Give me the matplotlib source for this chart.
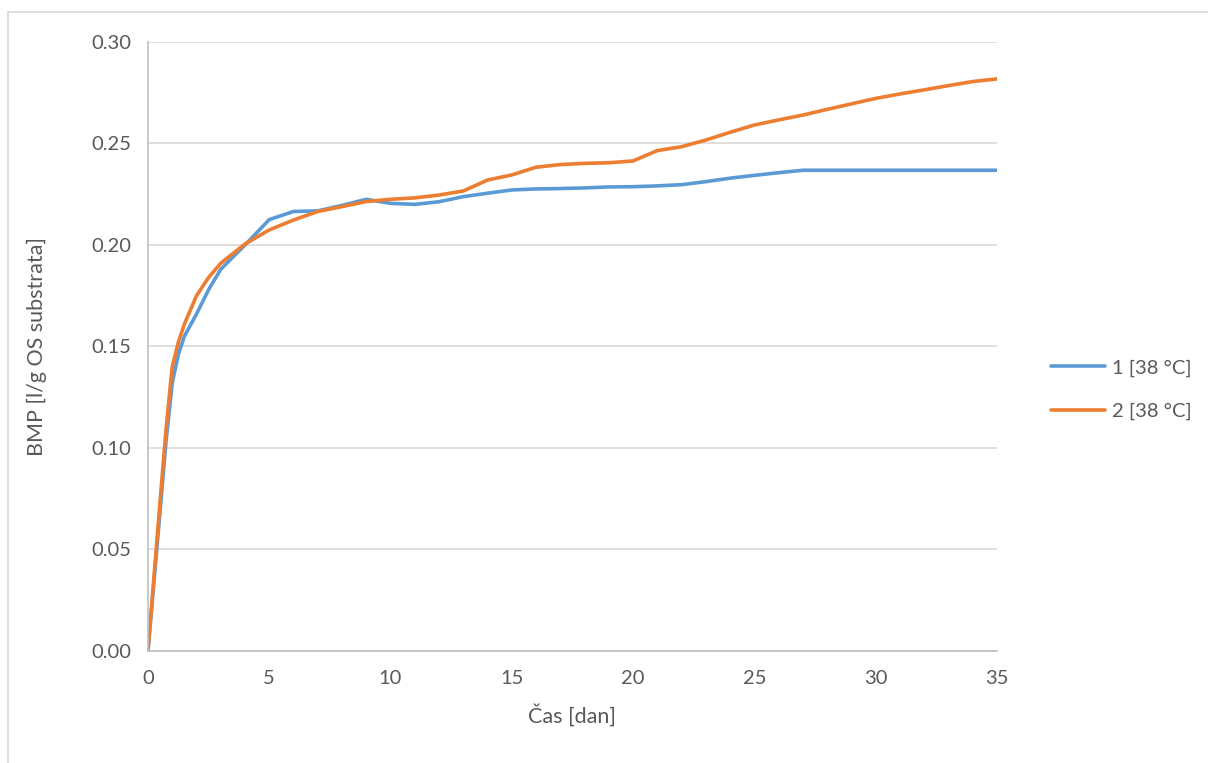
import matplotlib.pyplot as plt
from matplotlib.patches import Rectangle

# --- Data ---
days = [0, 0.5, 0.75, 1, 1.25, 1.5, 2, 2.5, 3, 4, 5, 6, 7, 8, 9, 10, 11, 12, 13, 14,
        15, 16, 17, 18, 19, 20, 21, 22, 23, 24, 25, 26, 27, 28, 29, 30, 31, 32, 33, 34, 35]
bmp_1 = [0, 0.069, 0.104, 0.132, 0.146, 0.155, 0.166, 0.178, 0.188, 0.200, 0.2125,
         0.2165, 0.2168, 0.2195, 0.2225, 0.2205, 0.2200, 0.2213, 0.2238, 0.2255, 0.2271,
         0.2276, 0.2278, 0.2281, 0.2286, 0.2287, 0.2291, 0.2297, 0.2312, 0.2329, 0.2343,
         0.2356, 0.2368, 0.2368, 0.2368, 0.2368, 0.2368, 0.2368, 0.2368, 0.2368, 0.2368]
bmp_2 = [0, 0.074, 0.110, 0.140, 0.152, 0.161, 0.175, 0.184, 0.191, 0.2005, 0.2074,
         0.2123, 0.2165, 0.2189, 0.2214, 0.2225, 0.2232, 0.2246, 0.2266, 0.2320, 0.2345,
         0.2383, 0.2396, 0.2402, 0.2405, 0.2414, 0.2465, 0.2484, 0.2517, 0.2555, 0.2591,
         0.2616, 0.2640, 0.2668, 0.2695, 0.2722, 0.2744, 0.2764, 0.2785, 0.2805, 0.2818]
series_names = ['1 [38 °C]', '2 [38 °C]']
x_ticks = [0, 5, 10, 15, 20, 25, 30, 35]
y_ticks = [0.00, 0.05, 0.10, 0.15, 0.20, 0.25, 0.30]

plt.rcParams['font.family'] = ['Lato', 'DejaVu Sans']
text_color = '#595959'

fig = plt.figure(figsize=(12.08, 7.63), dpi=100)
ax = fig.add_axes([0.1225, 0.1468, 0.7028, 0.7982])

# chart border (Excel style)
fig.patches.append(Rectangle((8 / 1208, -0.05), 1.2, 1 - 12 / 763 + 0.05,
                             transform=fig.transFigure, fill=False,
                             edgecolor='#d9d9d9', linewidth=1.2))

ax.plot(days, bmp_1, color='#5B9BD5', linewidth=2.6, label=series_names[0],
        solid_capstyle='round', solid_joinstyle='round')
ax.plot(days, bmp_2, color='#ED7D31', linewidth=2.6, label=series_names[1],
        solid_capstyle='round', solid_joinstyle='round')

ax.set_xlim(0, 35)
ax.set_ylim(0, 0.30)
ax.set_xticks(x_ticks)
ax.set_yticks(y_ticks)
ax.set_yticklabels([f'{v:.2f}' for v in y_ticks])
ax.tick_params(length=0, labelsize=14.5, colors=text_color, pad=12)
ax.tick_params(axis='x', pad=14)
ax.grid(axis='y', color='#d9d9d9', linewidth=1.2)
ax.set_axisbelow(True)
for side in ['top', 'right']:
    ax.spines[side].set_visible(False)
for side in ['left', 'bottom']:
    ax.spines[side].set_color('#bfbfbf')
    ax.spines[side].set_linewidth(1.2)

ax.set_xlabel('Čas [dan]', fontsize=15.5, color=text_color, labelpad=12)
ax.set_ylabel('BMP [l/g OS substrata]', fontsize=15.5, color=text_color, labelpad=32)

fig.legend(loc='center left', bbox_to_anchor=(0.855, 0.489), frameon=False,
           fontsize=14.5, labelcolor=text_color, handlelength=2.7, labelspacing=1.3,
           handletextpad=0.35)

plt.savefig('out.png', dpi=100)
plt.close()
